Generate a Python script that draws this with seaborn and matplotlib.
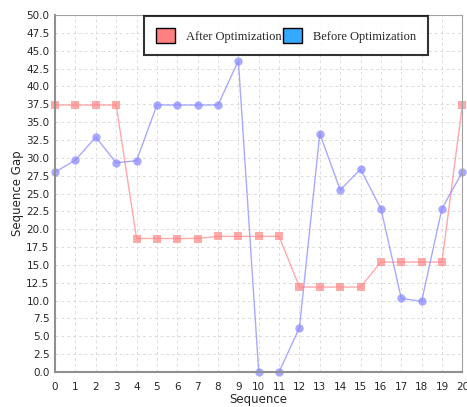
import pandas as pd
import numpy as np
import matplotlib.pyplot as plt
import seaborn as sns
from matplotlib.patches import Patch

sequence = list(range(21))
after_opt = [37.4, 37.4, 37.4, 37.4, 18.7, 18.7, 18.7, 18.7, 19.0, 19.0, 19.0,
             19.0, 11.9, 11.9, 11.9, 11.9, 15.4, 15.4, 15.4, 15.4, 37.4]
before_opt = [28.0, 29.7, 32.9, 29.3, 29.6, 37.4, 37.4, 37.4, 37.4, 43.6, 0.0,
              0.0, 6.2, 33.4, 25.5, 28.4, 22.9, 10.3, 9.9, 22.9, 28.0]

df = pd.concat([
    pd.DataFrame({'Sequence': sequence, 'Gap': after_opt, 'Series': 'After Optimization'}),
    pd.DataFrame({'Sequence': sequence, 'Gap': before_opt, 'Series': 'Before Optimization'}),
])

sns.set_style('white')
plt.rcParams['font.family'] = ['DejaVu Sans']

fig = plt.figure(figsize=(4.67, 4.07), dpi=100)
ax = fig.add_axes([0.118, 0.086, 0.872, 0.877])

# 折线
sns.lineplot(data=df, x='Sequence', y='Gap', hue='Series', style='Series',
             palette={'After Optimization': '#ff8c8c', 'Before Optimization': '#8c8cff'},
             markers={'After Optimization': 's', 'Before Optimization': 'o'},
             dashes=False, markersize=6, markeredgewidth=0, linewidth=1,
             alpha=0.75, legend=False, ax=ax, clip_on=False)

ax.set_xlim(0, 20)
ax.set_ylim(0, 50)
ax.set_xticks(range(0, 21))
ax.set_yticks(np.arange(0, 50.1, 2.5))
ax.set_yticklabels([f'{v:.1f}' for v in np.arange(0, 50.1, 2.5)])
ax.tick_params(labelsize=7.5, length=2, direction='out', color='gray', pad=2)
ax.tick_params(axis='x', pad=5)
ax.grid(True, color='#dcdcdc', linestyle=(0, (3, 3)), linewidth=0.7)

for side in ['top', 'right']:
    ax.spines[side].set_color('#a0a0a0')
for side in ['left', 'bottom']:
    ax.spines[side].set_color('#909090')
    ax.spines[side].set_linewidth(1.5)

ax.set_xlabel('Sequence', fontsize=8.5, labelpad=1)
ax.set_ylabel('Sequence Gap', fontsize=8.5, labelpad=2)

handles = [Patch(facecolor='#ff8080', edgecolor='black', label='After Optimization'),
           Patch(facecolor='#33aaff', edgecolor='black', label='Before Optimization')]
leg = ax.legend(handles=handles, ncol=2, loc='upper left',
                bbox_to_anchor=(0.215, 1.0), frameon=True, fancybox=False,
                prop={'family': 'Liberation Serif', 'size': 9},
                handlelength=1.5, handleheight=1.5, columnspacing=0.15,
                borderpad=0.95, handletextpad=0.9, borderaxespad=0.1)
leg.get_frame().set_edgecolor('black')
leg.get_frame().set_linewidth(1.5)

fig.savefig('out.png', dpi=100)
